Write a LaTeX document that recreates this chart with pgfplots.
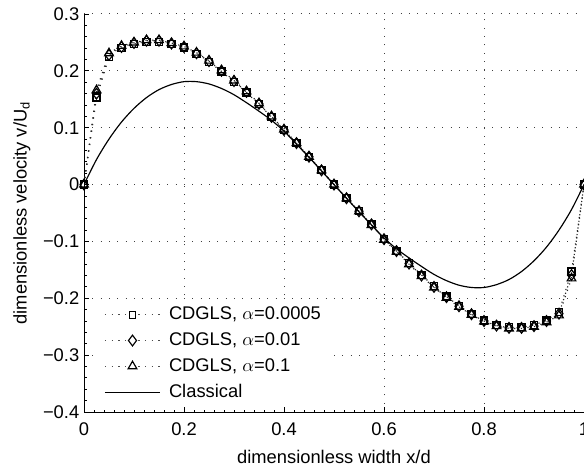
\documentclass[border=0pt]{standalone}
\usepackage{fontspec}
\setmainfont{Liberation Sans}
\usepackage{pgfplots}
\usepackage{pgfplotstable}
\pgfplotsset{compat=1.18}

\pgfplotstableread{
x y
0 0
0.025 0.153
0.05 0.224
0.075 0.240
0.1 0.247
0.125 0.251
0.15 0.251
0.175 0.247
0.2 0.241
0.225 0.230
0.25 0.216
0.275 0.199
0.3 0.181
0.325 0.162
0.35 0.141
0.375 0.119
0.4 0.096
0.425 0.073
0.45 0.049
0.475 0.025
0.5 0.000
0.525 -0.024
0.55 -0.047
0.575 -0.070
0.6 -0.096
0.625 -0.117
0.65 -0.138
0.675 -0.159
0.7 -0.179
0.725 -0.197
0.75 -0.213
0.775 -0.227
0.8 -0.239
0.825 -0.247
0.85 -0.251
0.875 -0.251
0.9 -0.247
0.925 -0.239
0.95 -0.224
0.975 -0.153
1 0
}\sqdata

\pgfplotstableread{
x y
0 0
0.025 0.160
0.05 0.228
0.075 0.242
0.1 0.249
0.125 0.253
0.15 0.253
0.175 0.248
0.2 0.242
0.225 0.231
0.25 0.217
0.275 0.200
0.3 0.182
0.325 0.163
0.35 0.142
0.375 0.119
0.4 0.096
0.425 0.073
0.45 0.049
0.475 0.025
0.5 0.000
0.525 -0.024
0.55 -0.047
0.575 -0.070
0.6 -0.096
0.625 -0.117
0.65 -0.139
0.675 -0.160
0.7 -0.180
0.725 -0.198
0.75 -0.214
0.775 -0.228
0.8 -0.240
0.825 -0.248
0.85 -0.252
0.875 -0.252
0.9 -0.249
0.925 -0.240
0.95 -0.227
0.975 -0.159
1 0
}\dmdata

\pgfplotstableread{
x y
0 0
0.025 0.166
0.05 0.231
0.075 0.244
0.1 0.250
0.125 0.254
0.15 0.254
0.175 0.249
0.2 0.243
0.225 0.232
0.25 0.218
0.275 0.201
0.3 0.183
0.325 0.164
0.35 0.143
0.375 0.120
0.4 0.097
0.425 0.073
0.45 0.049
0.475 0.025
0.5 0.000
0.525 -0.024
0.55 -0.047
0.575 -0.071
0.6 -0.097
0.625 -0.118
0.65 -0.140
0.675 -0.161
0.7 -0.181
0.725 -0.199
0.75 -0.215
0.775 -0.229
0.8 -0.241
0.825 -0.249
0.85 -0.253
0.875 -0.253
0.9 -0.250
0.925 -0.242
0.95 -0.230
0.975 -0.165
1 0
}\trdata

\pgfplotstableread{
x y
0 0
0.025 0.044
0.05 0.080
0.075 0.110
0.1 0.134
0.125 0.153
0.15 0.167
0.175 0.176
0.2 0.181
0.225 0.181
0.25 0.177
0.275 0.169
0.3 0.158
0.325 0.144
0.35 0.129
0.375 0.113
0.4 0.094
0.425 0.071
0.45 0.048
0.475 0.024
0.5 0.000
0.525 -0.024
0.55 -0.048
0.575 -0.071
0.6 -0.094
0.625 -0.113
0.65 -0.129
0.675 -0.144
0.7 -0.158
0.725 -0.169
0.75 -0.177
0.775 -0.181
0.8 -0.181
0.825 -0.176
0.85 -0.167
0.875 -0.153
0.9 -0.134
0.925 -0.110
0.95 -0.080
0.975 -0.044
1 0
}\cldata

\begin{document}
\fontsize{11pt}{13pt}\selectfont
\begin{tikzpicture}
\begin{axis}[
  name=ax,
  scale only axis, width=300pt, height=238.8pt,
  xmin=0, xmax=1, ymin=-0.4, ymax=0.3,
  axis x line*=bottom, axis y line*=left,
  axis line style={black, line width=0.6pt},
  xtick={0,0.2,0.4,0.6,0.8,1},
  xticklabels={0,0.2,0.4,0.6,0.8,1},
  ytick={-0.4,-0.3,-0.2,-0.1,0,0.1,0.2,0.3},
  yticklabels={−0.4,−0.3,−0.2,−0.1,0,0.1,0.2,0.3},
  minor x tick num=9, minor y tick num=4,
  tick align=inside, major tick length=3pt, minor tick length=1.5pt,
  tick style={black, line width=0.5pt},
  grid=major,
  major grid style={black!75, line width=0.6pt, dash pattern=on 0.6pt off 4.4pt},
  tick label style={font=\fontsize{11pt}{13pt}\selectfont},
  xticklabel style={yshift=-2.4pt},
  yticklabel style={xshift=1pt},
  label style={font=\fontsize{11pt}{13pt}\selectfont},
  xlabel style={yshift=-1.5pt},
  xlabel={dimensionless width x/d},
  ylabel={dimensionless velocity v/U\textsubscript{d}},
  legend style={at={(0.03,0.012)}, anchor=south west, draw=none, fill=white,
    font=\fontsize{11pt}{13pt}\selectfont, row sep=2.1pt,
    /tikz/every odd column/.append style={column sep=3pt}},
  legend cell align=left,
]
\addplot[black!85, line width=0.7pt, dash pattern=on 0.7pt off 3.3pt, mark=square, mark size=2.1pt, mark options={solid, black, line width=0.7pt},
  legend image code/.code={\draw[black!70, line width=0.8pt, dash pattern=on 0.8pt off 3.2pt] (0cm,0cm) -- (1.16cm,0cm);
    \draw[solid, black, line width=0.7pt, fill=white] (0.51cm,-0.07cm) rectangle (0.65cm,0.07cm);}] table {\sqdata};
\addlegendentry{CDGLS, $\alpha$=0.0005}
\addplot[black!85, line width=0.7pt, dash pattern=on 0.7pt off 3.3pt, mark=diamond, mark size=3.2pt, mark options={solid, black, line width=0.7pt},
  legend image code/.code={\draw[black!70, line width=0.8pt, dash pattern=on 0.8pt off 3.2pt] (0cm,0cm) -- (1.16cm,0cm);
    \draw[solid, black, line width=0.7pt, fill=white] (0.58cm,0.113cm) -- (0.665cm,0cm) -- (0.58cm,-0.113cm) -- (0.495cm,0cm) -- cycle;}] table {\dmdata};
\addlegendentry{CDGLS, $\alpha$=0.01}
\addplot[black!85, line width=0.7pt, dash pattern=on 0.7pt off 3.3pt, mark=triangle, mark size=3pt, mark options={solid, black, line width=0.7pt},
  legend image code/.code={\draw[black!70, line width=0.8pt, dash pattern=on 0.8pt off 3.2pt] (0cm,0cm) -- (1.16cm,0cm);
    \draw[solid, black, line width=0.7pt, fill=white] (0.58cm,0.106cm) -- (0.672cm,-0.053cm) -- (0.488cm,-0.053cm) -- cycle;}] table {\trdata};
\addlegendentry{CDGLS, $\alpha$=0.1}
\addplot[black, line width=0.7pt, smooth,
  legend image code/.code={\draw[solid, black, line width=0.7pt] (0cm,0cm) -- (1.16cm,0cm);}] table {\cldata};
\addlegendentry{Classical}
\end{axis}
\pgfresetboundingbox
\path[use as bounding box] ([xshift=-50.4pt,yshift=-33.6pt]ax.south west) rectangle ([yshift=8.4pt]ax.north east);
\end{tikzpicture}
\end{document}
